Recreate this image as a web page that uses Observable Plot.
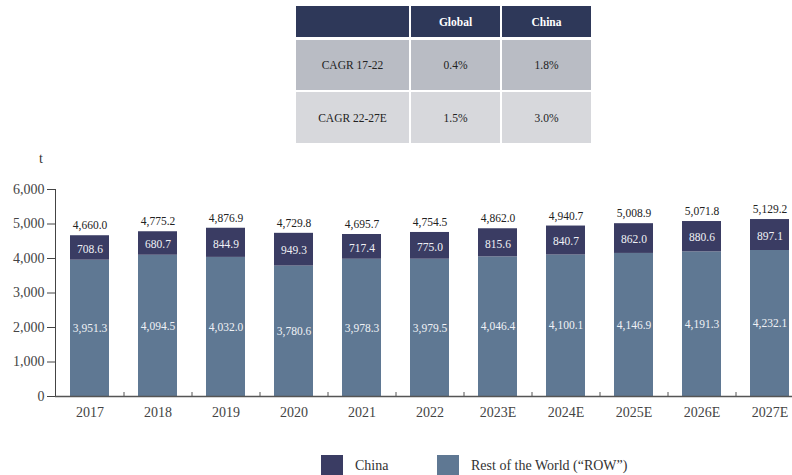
<!DOCTYPE html>
<html>
<head>
<meta charset="utf-8">
<script src="https://cdn.jsdelivr.net/npm/d3@7"></script>
<script src="https://cdn.jsdelivr.net/npm/@observablehq/plot@0.6"></script>
<style>
  html, body { margin: 0; padding: 0; background: #fff; }
  body { width: 792px; height: 475px; overflow: hidden; position: relative; font-family: "Liberation Serif", "Times New Roman", serif; }
  #table { position: absolute; left: 296px; top: 6px; width: 295px; }
  .cell { position: absolute; display: flex; align-items: center; justify-content: center; font-size: 11.5px; color: #222; }
  .hdr { background: #2e3859; color: #fff; font-weight: bold; }
  .r0 { background: #b9bcc4; }
  .r1 { background: #d7d8dc; }
  #ylabel { position: absolute; left: 39px; top: 151px; font-size: 14px; color: #333; }
  #chart { position: absolute; left: 0; top: 150px; }
  #legend { position: absolute; left: 0; top: 455px; width: 792px; height: 22px; font-size: 14px; color: #333; }
  .sw { position: absolute; top: 0; width: 22px; height: 22px; }
  .lt { position: absolute; top: 2px; line-height: 18px; }
</style>
</head>
<body>
<div id="table"></div>
<div id="ylabel">t</div>
<div id="chart"></div>
<div id="legend"></div>
<script>
const years = ["2017", "2018", "2019", "2020", "2021", "2022", "2023E", "2024E", "2025E", "2026E", "2027E"];
const china = [708.6, 680.7, 844.9, 949.3, 717.4, 775.0, 815.6, 840.7, 862.0, 880.6, 897.1];
const row = [3951.3, 4094.5, 4032.0, 3780.6, 3978.3, 3979.5, 4046.4, 4100.1, 4146.9, 4191.3, 4232.1];
const totals = [4660.0, 4775.2, 4876.9, 4729.8, 4695.7, 4754.5, 4862.0, 4940.7, 5008.9, 5071.8, 5129.2];
const yTicks = [0, 1000, 2000, 3000, 4000, 5000, 6000];
const seriesNames = ["China", "Rest of the World (\u201CROW\u201D)"];
const seriesColors = ["#3a3c63", "#5f7893"];
const tableHeaders = ["", "Global", "China"];
const cagrLabels = ["CAGR 17-22", "CAGR 22-27E"];
const cagrGlobal = ["0.4%", "1.5%"];
const cagrChina = ["1.8%", "3.0%"];

// Table
const colX = [0, 115, 206], colW = [113, 89, 89];
const rowY = [0, 34, 86], rowH = [31, 50, 51];
const tbl = document.getElementById("table");
const tableRows = [tableHeaders, ...cagrLabels.map((l, i) => [l, cagrGlobal[i], cagrChina[i]])];
tableRows.forEach((r, ri) => r.forEach((txt, ci) => {
  const d = document.createElement("div");
  d.className = "cell " + (ri === 0 ? "hdr" : "r" + (ri - 1));
  d.style.left = colX[ci] + "px"; d.style.top = rowY[ri] + "px";
  d.style.width = colW[ci] + "px"; d.style.height = rowH[ri] + "px";
  d.textContent = txt;
  tbl.appendChild(d);
}));

// Data
const rowData = years.map((y, i) => ({year: y, series: seriesNames[1], y1: 0, y2: row[i], v: row[i]}));
const chinaData = years.map((y, i) => ({year: y, series: seriesNames[0], y1: row[i], y2: row[i] + china[i], v: china[i]}));
const totalData = years.map((y, i) => ({year: y, total: totals[i]}));
const fmt1 = d3.format(",.1f");

const chart = Plot.plot({
  width: 792,
  height: 290,
  marginTop: 39,
  marginBottom: 44,
  marginLeft: 55,
  marginRight: 0,
  style: {fontFamily: "Liberation Serif, serif", fontSize: "14px", color: "#444", background: "transparent"},
  x: {domain: years, range: [55.5, 803.5], paddingInner: 0.426, paddingOuter: 0.213, tickSize: 0, tickPadding: 11, label: null},
  y: {domain: [0, 6000], ticks: yTicks, tickFormat: d => d3.format(",")(d), tickSize: 8, tickPadding: 3, label: null, line: true},
  color: {domain: seriesNames, range: seriesColors},
  marks: [
    Plot.barY(rowData, {x: "year", y1: "y1", y2: "y2", fill: "series"}),
    Plot.barY(chinaData, {x: "year", y1: "y1", y2: "y2", fill: "series"}),
    Plot.ruleY([0], {stroke: "#555", strokeWidth: 1.5}),
    Plot.ruleX(years, {x: d => d, y1: 0, y2: 0, dx: 34, insetTop: -4, stroke: "#555", strokeWidth: 1}),
    Plot.text(rowData, {x: "year", y: d => d.v / 2, text: d => fmt1(d.v), fill: "#f0f2f6", fontSize: 11.5}),
    Plot.text(chinaData, {x: "year", y: d => (d.y1 + d.y2) / 2, text: d => fmt1(d.v), fill: "#f0f2f6", fontSize: 11.5, dy: 1}),
    Plot.text(totalData, {x: "year", y: "total", text: d => fmt1(d.total), fill: "#222", fontSize: 11.5, dy: -10})
  ]
});
document.getElementById("chart").appendChild(chart);

// Legend
const lg = document.getElementById("legend");
const swX = [321, 437], txX = [355, 471];
seriesNames.forEach((n, i) => {
  const s = document.createElement("div");
  s.className = "sw"; s.style.left = swX[i] + "px"; s.style.background = seriesColors[i];
  lg.appendChild(s);
  const t = document.createElement("div");
  t.className = "lt"; t.style.left = txX[i] + "px"; t.textContent = n;
  lg.appendChild(t);
});
</script>
</body>
</html>
